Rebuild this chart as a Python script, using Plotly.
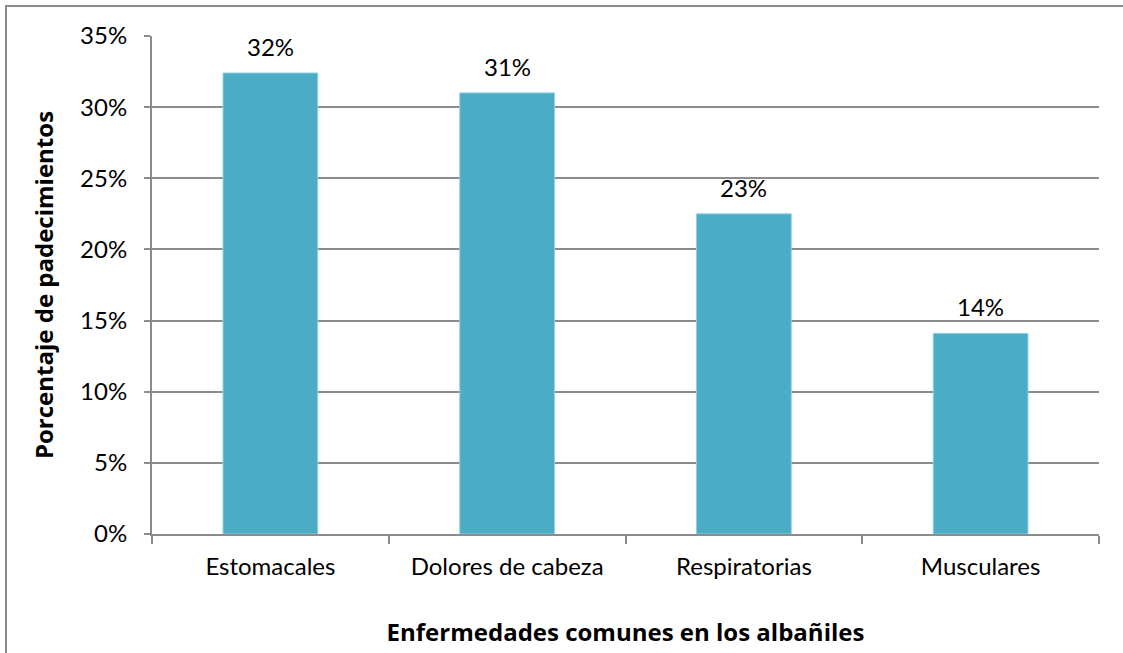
import plotly.graph_objects as go

categories = ["Estomacales", "Dolores de cabeza", "Respiratorias", "Musculares"]
values = [0.324, 0.310, 0.225, 0.141]
labels = ["32%", "31%", "23%", "14%"]

FONT = "Lato"
TFONT = "Open Sans"
SZ = 24
fig = go.Figure()
fig.add_trace(go.Bar(
    x=categories, y=values,
    marker=dict(color="#4BACC6", line=dict(color="#8fd0e0", width=1)),
    width=0.4,
    hoverinfo="skip",
))
for c, v, t in zip(categories, values, labels):
    fig.add_annotation(x=c, y=v, text=t, showarrow=False, yanchor="bottom",
                       yshift=10, font=dict(family=FONT, size=SZ, color="#000"))

L, R, T, B = 152, 24, 36, 119
W, H = 1123, 653
pw, ph = W - L - R, H - T - B
fig.add_shape(type="rect", xref="paper", yref="paper",
              x0=(6 - L) / pw, x1=(W + 20 - L) / pw,
              y0=(H - B - (H + 20)) / ph, y1=(H - B - 6) / ph,
              line=dict(color="#8c8c8c", width=2), fillcolor="rgba(0,0,0,0)", layer="below")

fig.update_layout(
    width=W, height=H,
    margin=dict(l=L, r=R, t=T, b=B),
    paper_bgcolor="white", plot_bgcolor="white",
    showlegend=False,
    font=dict(family=FONT, size=SZ, color="#000"),
    xaxis=dict(
        showline=True, linecolor="#8c8c8c", linewidth=2,
        ticks="outside", tickson="boundaries", ticklen=8, tickcolor="#8c8c8c", tickwidth=2,
        tickfont=dict(family=FONT, size=SZ), ticklabelstandoff=10,
        title=dict(text="<b>Enfermedades comunes en los albañiles</b>", standoff=45,
                   font=dict(family=TFONT, size=24)),
    ),
    yaxis=dict(
        range=[0, 0.35], dtick=0.05, tickformat=".0%",
        showline=True, linecolor="#8c8c8c", linewidth=2,
        showgrid=True, gridcolor="#8c8c8c", gridwidth=1.5,
        ticks="outside", ticklen=6, tickcolor="#8c8c8c", tickwidth=2,
        tickfont=dict(family=FONT, size=SZ), ticklabelstandoff=12,
        zeroline=False,
        title=dict(text="<b>Porcentaje de padecimientos</b>", standoff=20,
                   font=dict(family=TFONT, size=24)),
    ),
)
fig.write_html("out.html")
